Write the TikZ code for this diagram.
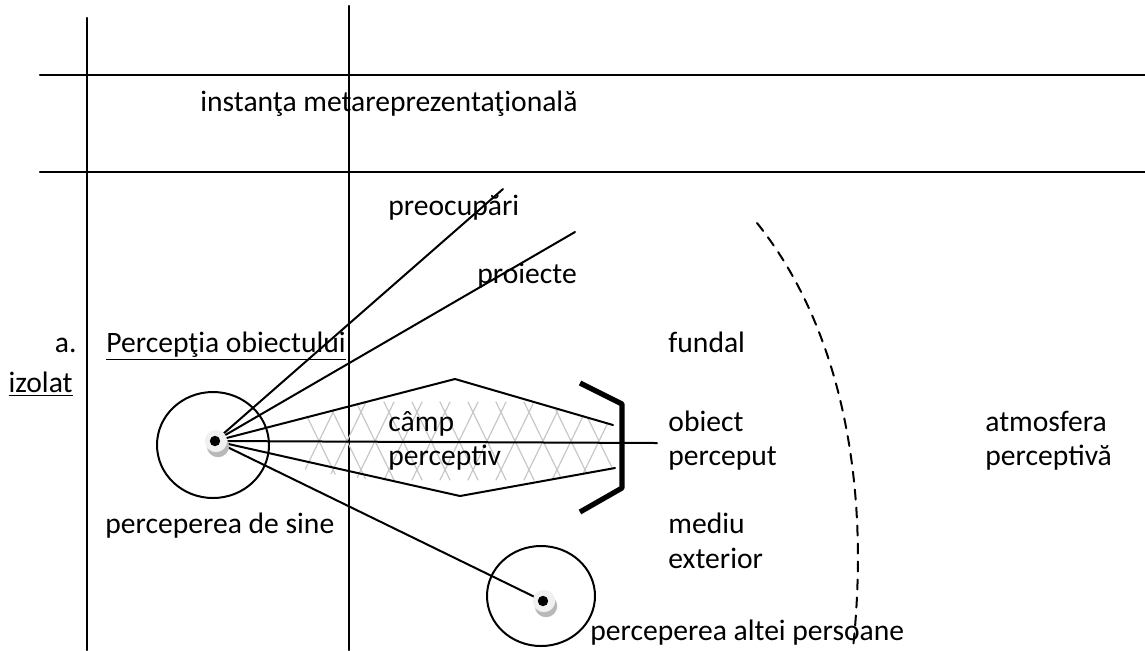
\documentclass[tikz,border=0pt]{standalone}
\usepackage{fontspec}
\setmainfont{Carlito}
\usetikzlibrary{positioning}
\definecolor{hatchgray}{rgb}{0.78,0.78,0.78}
\definecolor{eyegray}{rgb}{0.94,0.94,0.94}
\definecolor{shadegray}{rgb}{0.72,0.72,0.72}
\begin{document}
\begin{tikzpicture}[x=0.5pt,y=-0.5pt,line cap=round,line join=round,
  lbl/.style={inner sep=0pt,anchor=base west,font=\fontsize{14.8pt}{18pt}\selectfont},
  ray/.style={line width=1pt},
  bracket/.style={line width=2.6pt,line cap=butt}]
\useasboundingbox (0,0) rectangle (1145,650);
% frame
\draw [ray, line width=1.2pt] (87,18) -- (87,650);
\draw [ray, line width=1.2pt] (349,6) -- (349,650);
\draw [ray, line width=1.2pt] (40,75) -- (1145,75);
\draw [ray, line width=1.2pt] (40,172) -- (1145,172);
% hatching of the field
\begin{scope}
\clip (305,416) -- (455,383) -- (612,424) -- (612,470) -- (460,493) -- (305,470) -- cycle;
\foreach \h in {300,328,...,600}
  \draw [hatchgray, line width=0.6pt] (\h,480) -- (\h+38,402) (\h,402) -- (\h+38,480);
\end{scope}
% points
\coordinate (eyeA) at (215,441);
\coordinate (eyeB) at (543,601);
\coordinate (preoc) at (503,189);
\coordinate (proj) at (575,232);
\coordinate (lensT) at (455,379);
\coordinate (lensTR) at (613,425);
\coordinate (lensB) at (460,496);
\coordinate (lensBR) at (615,468);
\coordinate (axisR) at (657,443);
% rays
\draw [ray] (eyeA) -- (preoc);
\draw [ray] (eyeA) -- (proj);
\draw [ray] (eyeA) -- (lensT) -- (lensTR);
\draw [ray] (eyeA) -- (lensB) -- (lensBR);
\draw [ray] (eyeA) -- (axisR);
\draw [ray] (eyeA) -- (eyeB);
% bracket
\draw [bracket] (580,383) -- (622,404) -- (622,488) -- (580,512);
% eyes
\draw [ray] (213,445) ellipse [x radius=28pt, y radius=26.5pt];
\draw [ray] (541,596) ellipse [x radius=27pt, y radius=25pt];
\foreach \e in {eyeA,eyeB} {
  \fill [shadegray] ([shift={(3,5)}]\e) circle [radius=5.6pt];
  \fill [eyegray] ([shift={(1,0)}]\e) circle [radius=5.6pt];
  \fill [black] (\e) circle [radius=2.6pt];
}
% dashed boundary
\draw [ray, dashed, dash pattern=on 5pt off 4pt] (757,223) .. controls (835,320) and (872,470) .. (853,648);
% texts
\node [lbl] (meta) at (200,111) {instanţa metareprezentaţională};
\node [lbl] (preocT) at (388,215) {preocupări};
\node [lbl] (projT) at (477,283) {proiecte};
\node [lbl, anchor=base east] (itemA) at (77,352) {a.};
\node [lbl, anchor=base east] (izolat) at (73,392) {\underline{izolat}};
\node [lbl] (percObj) at (106,352) {\underline{Percepţia obiectului}};
\node [lbl] (fundal) at (668,352) {fundal};
\node [lbl] (campA) at (388,431) {câmp};
\node [lbl] (campB) at (388,465) {perceptiv};
\node [lbl] (obA) at (668,431) {obiect};
\node [lbl] (obB) at (668,465) {perceput};
\node [lbl] (atmA) at (985,431) {atmosfera};
\node [lbl] (atmB) at (985,465) {perceptivă};
\node [lbl] (sine) at (105,533) {perceperea de sine};
\node [lbl] (medA) at (668,533) {mediu};
\node [lbl] (medB) at (668,568) {exterior};
\node [lbl] (alta) at (590,640) {perceperea altei persoane};
\end{tikzpicture}
\end{document}
